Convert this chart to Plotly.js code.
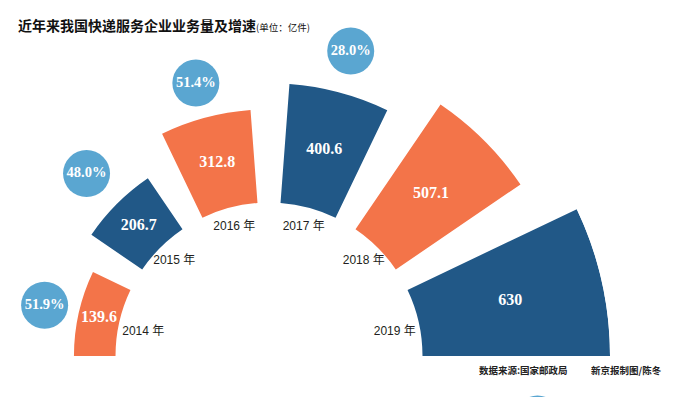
<!DOCTYPE html>
<html><head><meta charset="utf-8">
<script src="https://cdn.plot.ly/plotly-3.0.1.min.js"></script>
<style>
html,body{margin:0;padding:0;overflow:hidden;background:#fff;width:683px;height:397px;}
#chart{position:absolute;left:-72px;top:0;width:755px;height:397px;}
</style></head><body><div id="chart"></div>
<script>
// ---- data ----
const years = ['2014', '2015', '2016', '2017', '2018', '2019'];
const volume = [139.6, 206.7, 312.8, 400.6, 507.1, 630];          // 亿件
const volumeLabels = ['139.6', '206.7', '312.8', '400.6', '507.1', '630'];
const growthLabels = ['51.9%', '48.0%', '51.4%', '28.0%', '26.6%', '24%'];

// ---- styling / geometry ----
const ORANGE = '#F37449', BLUE = '#215887', LIGHT = '#5AA6D1';
const barColors = years.map((_, i) => i % 2 === 0 ? ORANGE : BLUE);
const SHIFT = 72;                 // div is shifted left so the fan centre sits where it should
const R_OUT = 341, R_IN = 153.5;  // px
const rMax = Math.max(...volume);
const pxPerUnit = (R_OUT - R_IN) / rMax;
const rMin = -R_IN / pxPerUnit;
const EDGE_W = 25.5, MID_W = 21.4;
const last = years.length - 1;
const theta = [], width = [];
years.forEach((_, i) => {
  if (i === 0) { theta.push(180 - EDGE_W / 2); width.push(EDGE_W); }
  else if (i === last) { theta.push(EDGE_W / 2); width.push(EDGE_W); }
  else { theta.push(165 - 30 * i); width.push(MID_W); }
});
const bubbleGapPx = [35, 43, 36, 43, 44, 30];
const bubbleR = volume.map((v, i) => v + bubbleGapPx[i] / pxPerUnit);
// year captions sit just inside the inner rim
const yearTheta = theta.map((t, i) => i === 0 ? 169.2 : (i === last ? 10.8 : t));
const yearR = years.map((_, i) => rMin + ((i === 0 || i === last) ? 128 : 134) / pxPerUnit);
const yearText = years.map(y => y + ' 年');

const W = 755, H = 397, M = {l: 0, r: 73, t: 15, b: 41};
const plotW = W - M.l - M.r, plotH = H - M.t - M.b;
const px = xs => (xs + SHIFT - M.l) / plotW;          // screen x -> paper fraction
const py = ys => (H - M.b - ys) / plotH;              // screen y -> paper fraction

const serifBold = {family: 'Liberation Serif, Times New Roman, serif', weight: 'bold', color: '#fff'};

const traces = [
  {
    type: 'barpolar', r: volume, theta: theta, width: width,
    marker: {color: barColors, line: {width: 0}}, hoverinfo: 'skip', showlegend: false
  },
  {
    type: 'scatterpolar', mode: 'text', r: volume.map(v => v / 2), theta: theta,
    text: volumeLabels, textposition: 'middle center',
    textfont: Object.assign({size: 16}, serifBold), hoverinfo: 'skip', showlegend: false
  },
  {
    type: 'scatterpolar', mode: 'text', r: yearR, theta: yearTheta, text: yearText,
    textposition: 'middle center',
    textfont: {family: 'Liberation Sans, Arial, Noto Sans CJK SC, sans-serif', size: 12, color: '#231f20'},
    hoverinfo: 'skip', showlegend: false, cliponaxis: false
  },
  {
    type: 'scatterpolar', mode: 'markers+text', r: bubbleR, theta: theta, text: growthLabels,
    textposition: 'middle center',
    marker: {size: 47, color: LIGHT, line: {width: 0}},
    textfont: Object.assign({size: 14.5}, serifBold), hoverinfo: 'skip', showlegend: false, cliponaxis: false
  }
];

const layout = {
  width: W, height: H,
  margin: Object.assign({pad: 0, autoexpand: false}, M),
  paper_bgcolor: '#fff',
  showlegend: false,
  title: {
    text: '近年来我国快递服务企业业务量及增速<span style="font-size:9.5px;font-weight:normal">(单位：亿件)</span>',
    font: {family: 'Noto Sans CJK SC, sans-serif', size: 14, color: '#111', weight: 'bold'},
    xref: 'container', yref: 'container',
    x: (18 + SHIFT) / W, xanchor: 'left', y: 1 - 26 / H, yanchor: 'middle'
  },
  polar: {
    domain: {x: [0, 1], y: [0, 1]},
    sector: [0, 180], hole: 0, bgcolor: 'rgba(0,0,0,0)',
    radialaxis: {visible: false, range: [rMin, rMax]},
    angularaxis: {visible: false, rotation: 0, direction: 'counterclockwise'}
  },
  annotations: [
    {text: '数据来源:国家邮政局', xref: 'paper', yref: 'paper', x: px(477), y: py(370),
     xanchor: 'left', yanchor: 'middle', showarrow: false,
     font: {family: 'Noto Sans CJK SC, sans-serif', size: 9.5, color: '#222', weight: 'bold'}},
    {text: '新京报制图/陈冬', xref: 'paper', yref: 'paper', x: px(664), y: py(370),
     xanchor: 'right', yanchor: 'middle', showarrow: false,
     font: {family: 'Noto Sans CJK SC, sans-serif', size: 9.5, color: '#222', weight: 'bold'}}
  ],
  shapes: [
    {type: 'circle', xref: 'paper', yref: 'paper', x0: px(537.5 - 23), x1: px(537.5 + 23),
     y0: py(418.5 + 23), y1: py(418.5 - 23), fillcolor: LIGHT, line: {width: 0}, layer: 'above'}
  ]
};

Plotly.newPlot('chart', traces, layout, {displayModeBar: false, staticPlot: true});
</script></body></html>
